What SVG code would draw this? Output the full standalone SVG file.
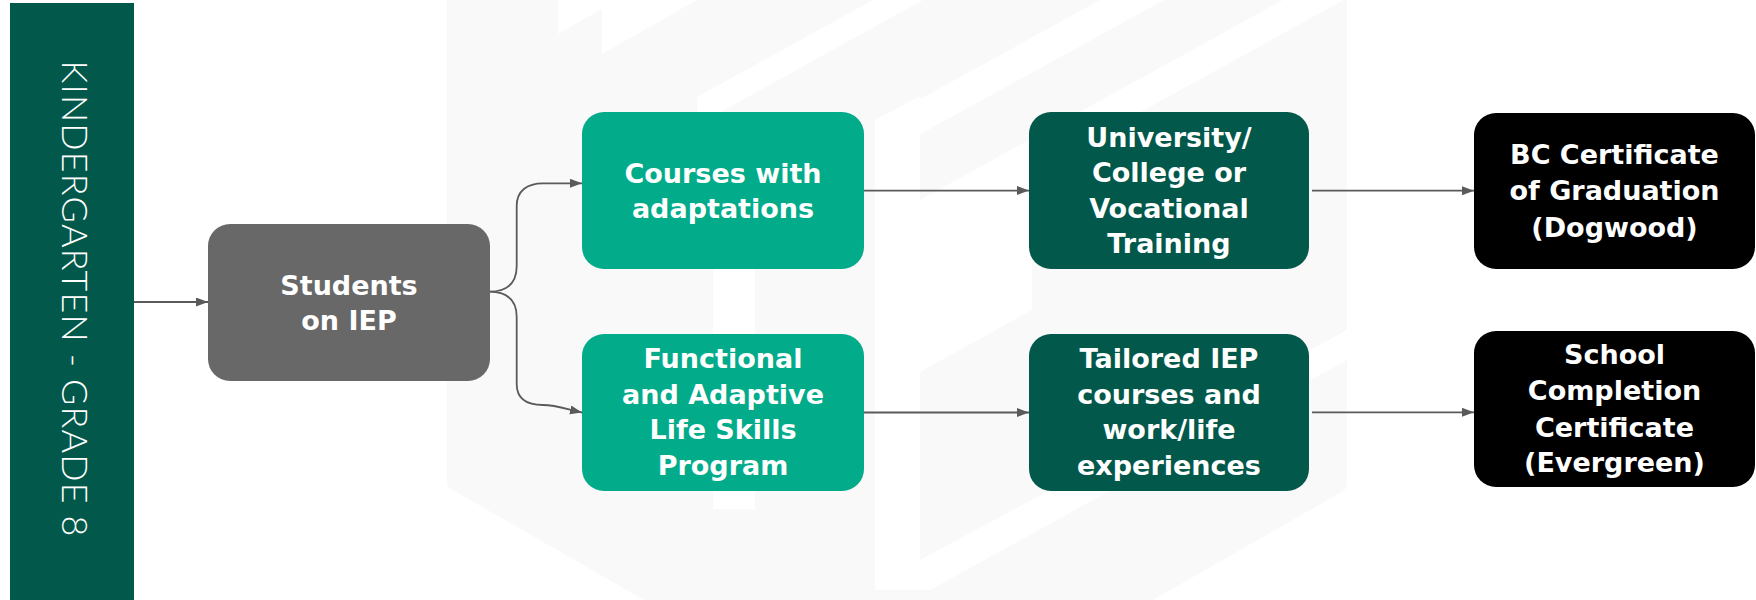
<svg xmlns="http://www.w3.org/2000/svg" width="1756" height="600" viewBox="0 0 1756 600">
<style>
.node text{font-family:"DejaVu Sans","Liberation Sans",sans-serif;font-weight:700;font-size:27px;fill:#ffffff;text-anchor:middle}
.teal{fill:#02ab89}
.dark{fill:#02584a}
.grey{fill:#686868}
.black{fill:#000000}
.conn{fill:none;stroke:#5a5a5a;stroke-width:1.8}
.wm{fill:#f9f9f9}
.gap{fill:#ffffff}
</style>
<defs>
<marker id="arr" markerUnits="userSpaceOnUse" markerWidth="13" markerHeight="10" refX="12" refY="4.5" orient="auto">
<path d="M0,0 L12,4.5 L0,9 Z" fill="#5a5a5a"/>
</marker>
<clipPath id="hexclip">
<path d="M447,0 H1347 V486 L1153,600 H644 L447,487 Z"/>
</clipPath>
</defs>
<rect x="0" y="0" width="1756" height="600" fill="#ffffff"/>
<g id="watermark">
<path class="wm" d="M447,0 H1347 V484 Q1347,489 1343,491 L1153,600 H644 L451,489 Q447,487 447,483 Z"/>
<g clip-path="url(#hexclip)">
<polygon class="gap" points="558,0 697,0 602,54 602,9 558,34"/>
<polygon class="gap" points="697,97 873,0 923,0 697,125"/>
<polygon class="gap" points="875,124 1100,0 1164,0 875,159"/>
<polygon class="gap" points="920,200 1283,0 1347,0 1347,-2 1032,172 1032,310 920,372"/>
<polygon class="gap" points="713,268 755,248 755,509 713,509"/>
<polygon class="gap" points="875,120 920,96 920,560 875,560"/>
<polygon class="gap" points="447,487 644,600 447,600"/>
<polygon class="gap" points="875,560 920,560 1347,330 1347,360 930,590 875,590"/>
</g>
</g>
<g id="connectors">
<line class="conn" x1="134" y1="302" x2="208" y2="302" marker-end="url(#arr)"/>
<path class="conn" d="M489,291.7 C506,291.7 516.7,284 516.7,266 L516.7,206 C516.7,191 527,183.3 543,183.3 L582,183.3" marker-end="url(#arr)"/>
<path class="conn" d="M489,291.7 C506,291.7 516.7,299 516.7,317 L516.7,384 C516.7,399 527,405 543,405 C556,405 566,409 582,412.5" marker-end="url(#arr)"/>
<line class="conn" x1="864" y1="190.6" x2="1029" y2="190.6" marker-end="url(#arr)"/>
<line class="conn" x1="864" y1="412.5" x2="1029" y2="412.5" marker-end="url(#arr)"/>
<line class="conn" x1="1312" y1="190.7" x2="1474" y2="190.7" marker-end="url(#arr)"/>
<line class="conn" x1="1312" y1="412.3" x2="1474" y2="412.3" marker-end="url(#arr)"/>
</g>
<g id="grade-bar">
<rect x="10" y="3" width="124" height="600" fill="#02584a"/>
<text transform="translate(62,298.5) rotate(90)" font-family="Lato,'Open Sans','Liberation Sans',sans-serif" font-weight="300" font-size="36" fill="#ffffff" text-anchor="middle" textLength="476" lengthAdjust="spacing">KINDERGARTEN - GRADE 8</text>
</g>
<g id="students" class="node">
<rect class="grey" x="208" y="224" width="282" height="157" rx="22"/>
<text x="349" y="295.4">Students</text>
<text x="349" y="330">on IEP</text>
</g>
<g id="courses" class="node">
<rect class="teal" x="582" y="112" width="282" height="157" rx="22"/>
<text x="723" y="183">Courses with</text>
<text x="723" y="218">adaptations</text>
</g>
<g id="functional" class="node">
<rect class="teal" x="582" y="334" width="282" height="157" rx="22"/>
<text x="723" y="368">Functional</text>
<text x="723" y="403.5">and Adaptive</text>
<text x="723" y="439">Life Skills</text>
<text x="723" y="474.5">Program</text>
</g>
<g id="university" class="node">
<rect class="dark" x="1029" y="112" width="280" height="157" rx="22"/>
<text x="1169" y="146.6">University/</text>
<text x="1169" y="182">College or</text>
<text x="1169" y="217.5">Vocational</text>
<text x="1169" y="253">Training</text>
</g>
<g id="tailored" class="node">
<rect class="dark" x="1029" y="334" width="280" height="157" rx="22"/>
<text x="1169" y="368">Tailored IEP</text>
<text x="1169" y="403.5">courses and</text>
<text x="1169" y="439">work/life</text>
<text x="1169" y="474.5">experiences</text>
</g>
<g id="bc-certificate" class="node">
<rect class="black" x="1474" y="113" width="281" height="156" rx="22"/>
<text x="1614.5" y="164">BC Certificate</text>
<text x="1614.5" y="200">of Graduation</text>
<text x="1614.5" y="236.5">(Dogwood)</text>
</g>
<g id="school-completion" class="node">
<rect class="black" x="1474" y="331" width="281" height="156" rx="22"/>
<text x="1614.5" y="364.3">School</text>
<text x="1614.5" y="400">Completion</text>
<text x="1614.5" y="436.5">Certificate</text>
<text x="1614.5" y="471.7">(Evergreen)</text>
</g>
</svg>
